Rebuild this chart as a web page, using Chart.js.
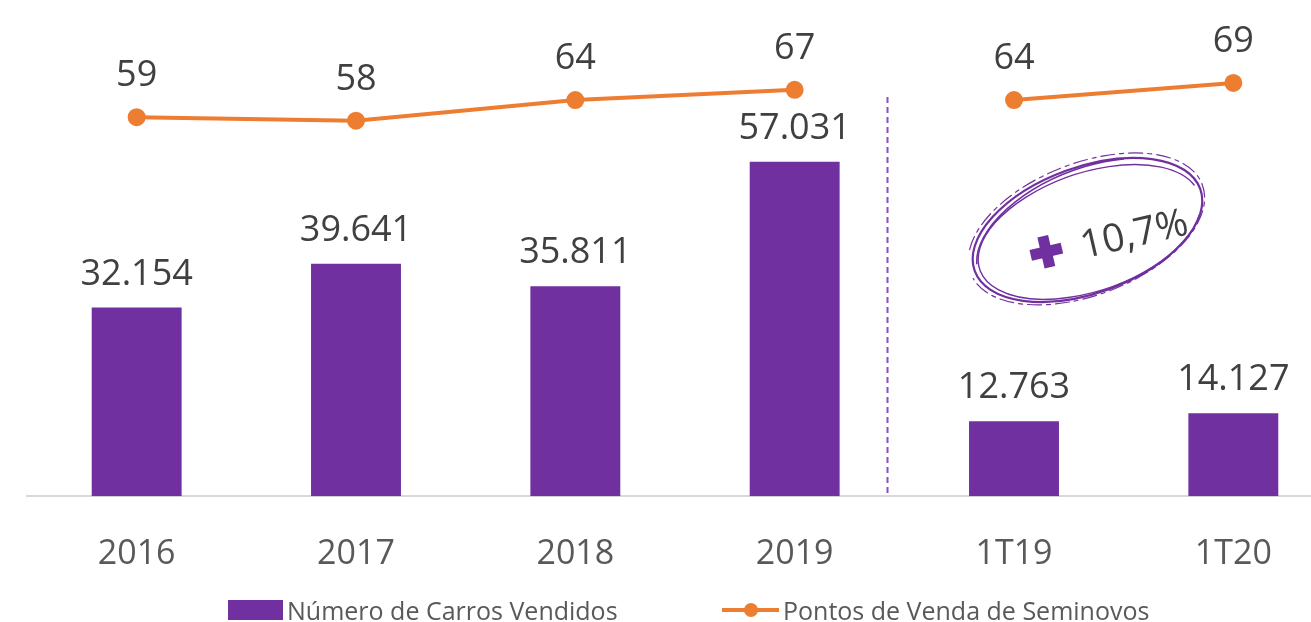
<!DOCTYPE html>
<html lang="pt-BR">
<head>
<meta charset="utf-8">
<script src="https://cdn.jsdelivr.net/npm/chart.js@4.4.1/dist/chart.umd.min.js"></script>
<style>
  html, body { margin: 0; padding: 0; background: #fff; overflow: hidden; }
  #wrap { position: relative; width: 1345px; height: 622px; }
  #grafico { display: block; }
  .leg { position: absolute; top: 596px; height: 28px; display: flex; align-items: center;
         font-family: 'Open Sans', sans-serif; font-size: 25px; color: #595959; white-space: nowrap; }
  .leg-barra { width: 55px; height: 20px; background: #7030A0; margin-right: 4px; }
  .leg-linha { position: relative; width: 57px; height: 4px; background: #ED7D31; margin-right: 4px; }
  .leg-linha::after { content: ''; position: absolute; left: 22px; top: -5px; width: 14px; height: 14px;
                      border-radius: 50%; background: #ED7D31; }
</style>
</head>
<body>
<div id="wrap">
  <canvas id="grafico" width="1345" height="622"></canvas>
  <div class="leg" style="left:228px"><span class="leg-barra"></span>Número de Carros Vendidos</div>
  <div class="leg" style="left:722px"><span class="leg-linha"></span>Pontos de Venda de Seminovos</div>
</div>
<script>
// Dados
const periodos       = ['2016', '2017', '2018', '2019', '1T19', '1T20'];
const carrosVendidos = [32154, 39641, 35811, 57031, 12763, 14127];
const pontosVenda    = [59, 58, 64, 67, 64, 69];
const destaque       = '10,7%';

const ROXO    = '#7030A0';
const LARANJA = '#ED7D31';

// 32154 -> "32.154"
function fmt(n) {
  return String(n).replace(/\B(?=(\d{3})+(?!\d))/g, '.');
}

// Rótulos de valor sobre barras e pontos
const rotulos = {
  id: 'rotulos',
  afterDatasetsDraw(chart) {
    const ctx = chart.ctx;
    ctx.save();
    ctx.font = '36px "Open Sans"';
    ctx.fillStyle = '#404040';
    ctx.textAlign = 'center';
    ctx.textBaseline = 'alphabetic';
    // dataset 0 = linha, dataset 1 = barras
    chart.getDatasetMeta(1).data.forEach((bar, i) => ctx.fillText(fmt(carrosVendidos[i]), bar.x, bar.y - 23));
    chart.getDatasetMeta(0).data.forEach((pt, i) => ctx.fillText(pontosVenda[i], pt.x, pt.y - 31));
    ctx.restore();
  }
};

// Linha tracejada separando anos de trimestres + destaque circulado
const extras = {
  id: 'extras',
  beforeDatasetsDraw(chart) {
    const { ctx, chartArea, scales: { x } } = chart;
    const x3 = x.getPixelForValue(3), x4 = x.getPixelForValue(4);
    const sx = Math.round(x3 + 0.42 * (x4 - x3)) + 0.5;
    ctx.save();
    ctx.strokeStyle = '#8A4FC0';
    ctx.lineWidth = 2;
    ctx.setLineDash([6, 4]);
    ctx.beginPath();
    ctx.moveTo(sx, 97);
    ctx.lineTo(sx, chartArea.bottom);
    ctx.stroke();
    ctx.restore();
  },
  afterDraw(chart) {
    const { ctx, scales: { x, y } } = chart;
    const x4 = x.getPixelForValue(4), x5 = x.getPixelForValue(5);
    const cx = x4 + 0.335 * (x5 - x4);
    const cy = y.getPixelForValue(45400);
    const rad = d => d * Math.PI / 180;

    ctx.save();
    ctx.strokeStyle = ROXO;
    ctx.lineCap = 'round';
    // traço "à mão": várias elipses ligeiramente diferentes
    ctx.lineWidth = 2.2;
    ctx.beginPath(); ctx.ellipse(cx, cy, 120, 63, rad(-20), 0, Math.PI * 2); ctx.stroke();
    ctx.lineWidth = 1.4;
    ctx.beginPath(); ctx.ellipse(cx + 2, cy + 2, 116, 59, rad(-19), rad(20), rad(350)); ctx.stroke();
    ctx.lineWidth = 1.2;
    ctx.setLineDash([14, 5, 4, 5]);
    ctx.beginPath(); ctx.ellipse(cx - 1, cy - 1, 124, 66, rad(-21), rad(-160), rad(175)); ctx.stroke();
    ctx.setLineDash([]);
    ctx.lineWidth = 1.6;
    ctx.beginPath(); ctx.ellipse(cx + 1, cy, 118, 61, rad(-22), rad(190), rad(300)); ctx.stroke();

    // "+ 10,7%"
    ctx.translate(cx, cy);
    ctx.rotate(rad(-13));
    ctx.fillStyle = ROXO;
    ctx.fillRect(-45 - 16, 12 - 5.5, 32, 11);
    ctx.fillRect(-45 - 5.5, 12 - 16, 11, 32);
    ctx.fillStyle = '#404040';
    ctx.font = '39px "Open Sans"';
    ctx.textAlign = 'left';
    ctx.textBaseline = 'alphabetic';
    ctx.fillText(destaque, -10, 27);
    ctx.restore();
  }
};

new Chart(document.getElementById('grafico'), {
  data: {
    labels: periodos,
    datasets: [
      {
        type: 'line',
        label: 'Pontos de Venda de Seminovos',
        data: pontosVenda,
        yAxisID: 'y2',
        borderColor: LARANJA,
        backgroundColor: LARANJA,
        borderWidth: 4,
        pointRadius: 7,
        pointHoverRadius: 7,
        tension: 0,
        order: 0,
        // sem ligação entre 2019 e 1T19
        segment: { borderColor: c => c.p0DataIndex === 3 ? 'rgba(0,0,0,0)' : undefined }
      },
      {
        type: 'bar',
        label: 'Número de Carros Vendidos',
        data: carrosVendidos,
        yAxisID: 'y',
        backgroundColor: ROXO,
        categoryPercentage: 1,
        barPercentage: 0.41,
        order: 1
      }
    ]
  },
  options: {
    responsive: false,
    animation: false,
    layout: { autoPadding: false, padding: { left: 27, right: 2, top: 27, bottom: 9 } },
    plugins: {
      legend: { display: false },
      tooltip: { enabled: false }
    },
    scales: {
      x: {
        grid: { display: false, drawTicks: false },
        border: { display: true, color: '#d9d9d9', width: 2 },
        ticks: { color: '#595959', font: { family: 'Open Sans', size: 34 }, padding: 38 }
      },
      y:  { display: false, min: 0, max: 80000 },
      y2: { display: false, min: -51.5, max: 85.3, position: 'right' }
    }
  },
  plugins: [rotulos, extras]
});
</script>
</body>
</html>
